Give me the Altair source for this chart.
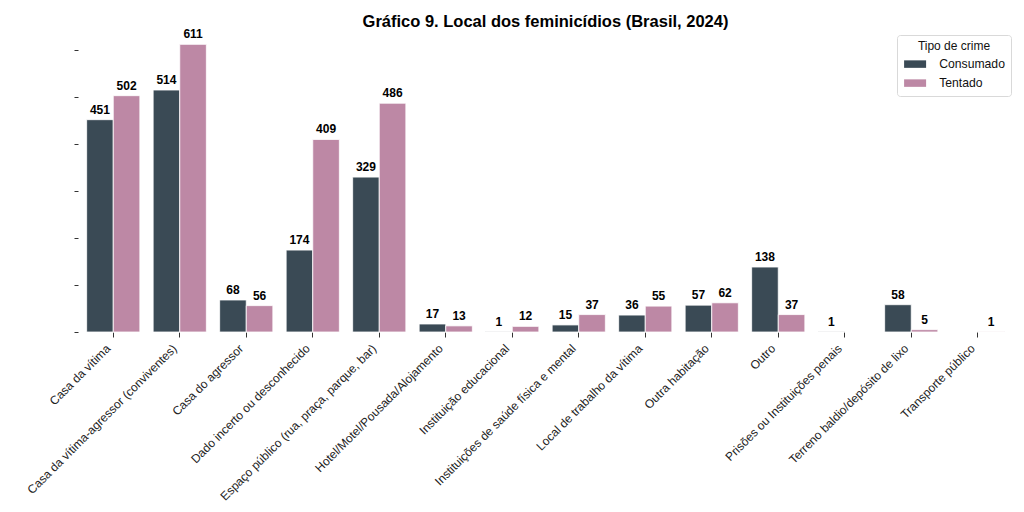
import altair as alt
import pandas as pd

categories = [
    "Casa da vítima",
    "Casa da vítima-agressor (conviventes)",
    "Casa do agressor",
    "Dado incerto ou desconhecido",
    "Espaço público (rua, praça, parque, bar)",
    "Hotel/Motel/Pousada/Alojamento",
    "Instituição educacional",
    "Instituições de saúde física e mental",
    "Local de trabalho da vítima",
    "Outra habitação",
    "Outro",
    "Prisões ou Instituições penais",
    "Terreno baldio/depósito de lixo",
    "Transporte público",
]
consumado = [451, 514, 68, 174, 329, 17, 1, 15, 36, 57, 138, 1, 58, None]
tentado = [502, 611, 56, 409, 486, 13, 12, 37, 55, 62, 37, None, 5, 1]
series = ["Consumado", "Tentado"]
colors = ["#3a4a55", "#bd88a5"]

rows = []
for c, a, b in zip(categories, consumado, tentado):
    rows.append({"local": c, "tipo": "Consumado", "n": a})
    rows.append({"local": c, "tipo": "Tentado", "n": b})
df = pd.DataFrame(rows).dropna()

x = alt.X("local:N", sort=categories, title=None,
          scale=alt.Scale(paddingInner=0.2, paddingOuter=0.1),
          axis=alt.Axis(labelAngle=-45, labelAlign="right", labelBaseline="bottom",
                        labelFontSize=12, labelColor="#222", labelFont="Liberation Sans",
                        tickSize=5, tickColor="#333", domain=False, labelPadding=14,
                        labelLimit=400))
y = alt.Y("n:Q", title=None, scale=alt.Scale(domain=[0, 641.5], nice=False),
          axis=alt.Axis(values=[0, 100, 200, 300, 400, 500, 600], labels=False,
                        tickSize=4, tickColor="#333", domain=False, grid=False, offset=2))

base = alt.Chart(df).encode(
    x=x,
    xOffset=alt.XOffset("tipo:N", sort=series, scale=alt.Scale(paddingInner=0, paddingOuter=0)),
)

bars = base.mark_bar(stroke="white", strokeWidth=0.8).encode(
    y=y,
    color=alt.Color("tipo:N", sort=series, scale=alt.Scale(domain=series, range=colors),
                    legend=alt.Legend(title="Tipo de crime", orient="none", legendX=817, legendY=5,
                                      titleAnchor="middle", titleFontWeight="normal",
                                      titleFontSize=12, labelFontSize=12.2,
                                      titleFont="Liberation Sans", labelFont="Liberation Sans",
                                      titleColor="#111", labelColor="#111", titlePadding=5,
                                      symbolType="M-2.2,-0.75L2.2,-0.75L2.2,0.75L-2.2,0.75Z",
                                      symbolSize=100, symbolStrokeWidth=0, symbolOffset=6,
                                      rowPadding=6, padding=6, strokeColor="#d9d9d9",
                                      cornerRadius=3, fillColor="white", labelOffset=18)),
)

labels = base.mark_text(dy=-3, baseline="bottom", fontWeight="bold", fontSize=12,
                        font="Liberation Sans", color="black").encode(
    y=alt.Y("n:Q"),
    text=alt.Text("n:Q", format="d"),
)

chart = (bars + labels).properties(
    width=931, height=302,
    title=alt.Title("Gráfico 9. Local dos feminicídios (Brasil, 2024)", fontSize=16.5,
                    font="Liberation Sans", fontWeight="bold", color="black", offset=8,
                    dy=10),
    autosize=alt.AutoSizeParams(type="none"),
    padding={"left": 72, "top": 22, "right": 5, "bottom": 180},
).configure_view(stroke=None)

chart.save("out.html", embed_options={"renderer": "svg", "actions": False})
